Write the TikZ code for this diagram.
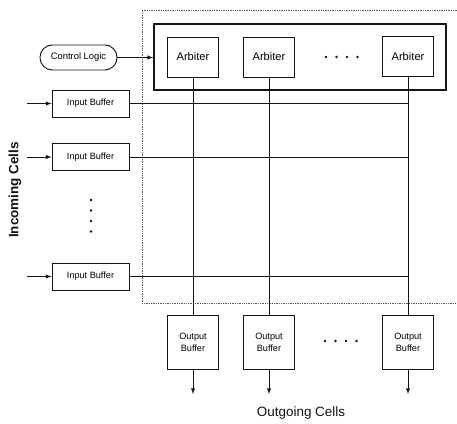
\documentclass[tikz,border=0pt]{standalone}
\usepackage{fontspec}
\setsansfont{Liberation Sans}
\usepackage{xcolor}
\definecolor{inkline}{RGB}{20,20,20}
\definecolor{frameline}{RGB}{90,90,90}

\tikzset{
  link/.style={inkline,line width=0.7pt},
  fabricframe/.style={frameline,line width=0.5pt,densely dotted},
  ctrlbox/.style={draw=inkline,line width=0.8pt,rounded corners=0.37cm,minimum width=2.31cm,minimum height=0.75cm,inner sep=0pt,font=\fontsize{8}{9}\selectfont\sffamily},
  arbgroup/.style={draw=inkline,line width=1.5pt,minimum width=8.76cm,minimum height=1.98cm,inner sep=0pt},
  arbbox/.style={draw=inkline,line width=0.8pt,fill=white,minimum width=1.53cm,minimum height=1.2cm,inner sep=0pt,font=\fontsize{9.5}{11}\selectfont\sffamily},
  bufbox/.style={draw=inkline,line width=0.8pt,minimum width=2.31cm,minimum height=0.81cm,inner sep=0pt,font=\fontsize{7.8}{9}\selectfont\sffamily},
  outbox/.style={draw=inkline,line width=0.8pt,minimum width=1.53cm,minimum height=1.62cm,inner sep=0pt,align=center,font=\fontsize{7.8}{10}\selectfont\sffamily},
  celllabel/.style={inkline,inner sep=0pt,font=\fontsize{11.5}{13}\selectfont\sffamily}
}

\begin{document}
\begin{tikzpicture}[x=0.03cm,y=-0.03cm]
  \useasboundingbox (0,0) rectangle (457,423);

  % --- switch fabric frame ---
  \draw[fabricframe] (457,10) -- (142,10) -- (142,303) -- (457,303);

  % --- control logic and arbiters ---
  \node[ctrlbox] (ctrl) at (78.5,57.5) {Control Logic};
  \node[arbgroup] (arbs) at (300,57) {};
  \node[arbbox] (arb1) at (193,57) {Arbiter};
  \node[arbbox] (arb2) at (269,57) {Arbiter};
  \node[arbbox] (arb3) at (408,56.5) {Arbiter};
  \draw[link,-latex] (ctrl.east) -- (ctrl.east -| arbs.west);
  \foreach \x in {326,336.5,347,357.5}{
    \fill[inkline] (\x,57) circle (1.2pt);
  }

  % --- input buffers and crossbar rows ---
  \foreach \n/\y in {1/103.5,2/157,3/276.5}{
    \node[bufbox] (inb\n) at (90.5,\y) {Input Buffer};
    \coordinate (src\n) at (27,\y);
    \draw[link,-latex] (src\n) -- (inb\n);
    \draw[link] (inb\n.east) -- (inb\n.east -| arb3.south);
  }
  \foreach \y in {200,210.5,221,231.5}{
    \fill[inkline] (91,\y) circle (1.2pt);
  }

  % --- output buffers and crossbar columns ---
  \foreach \n/\x in {1/193,2/269,3/408}{
    \node[outbox] (outb\n) at (\x,342) {Output\\Buffer};
    \draw[link] (arb\n.south) -- (arb\n.south |- outb\n.north);
    \coordinate (sink\n) at (\x,394);
    \draw[link,-latex] (outb\n) -- (sink\n);
  }
  \foreach \x in {325,335.5,346,356.5}{
    \fill[inkline] (\x,341) circle (1.2pt);
  }

  % --- labels ---
  \node[celllabel,font=\fontsize{11.5}{13}\selectfont\sffamily\bfseries,rotate=90] (inlbl) at (15,190) {Incoming Cells};
  \node[celllabel] (outlbl) at (301,413) {Outgoing Cells};

\end{tikzpicture}
\end{document}
